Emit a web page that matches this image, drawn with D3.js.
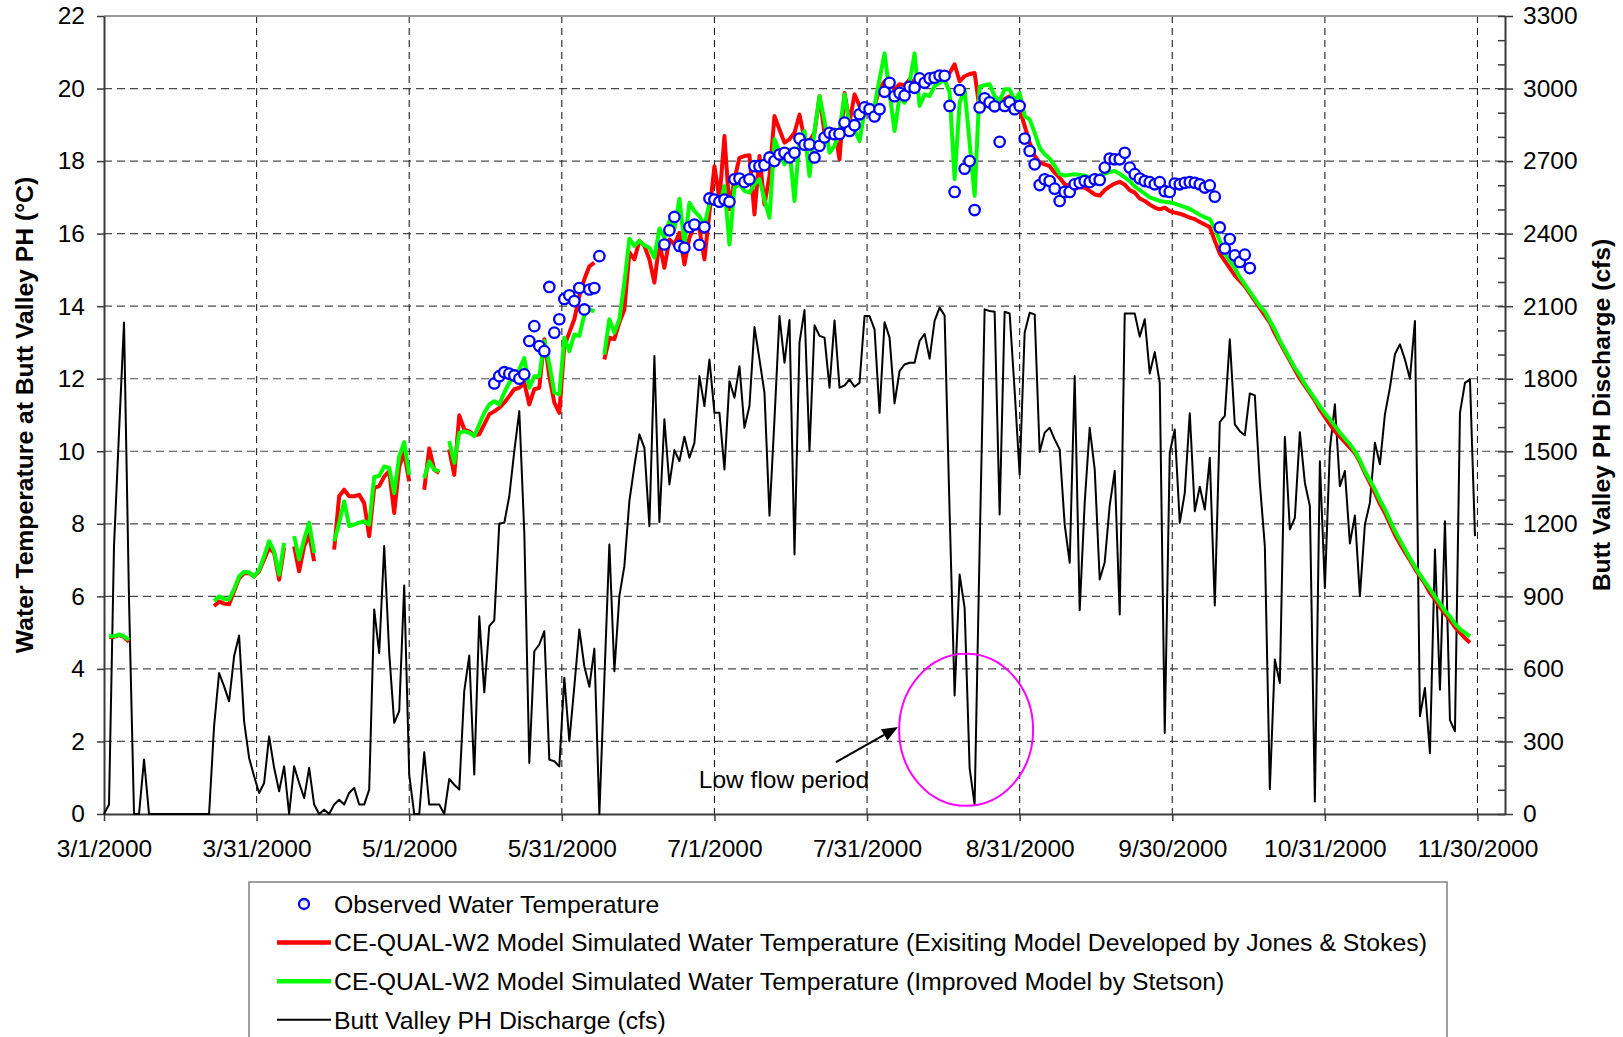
<!DOCTYPE html>
<html lang="en">
<head>
<meta charset="UTF-8">
<script src="https://d3js.org/d3.v7.min.js"></script>
<title>Butt Valley PH water temperature 2000</title>
<style>
    body { margin: 0; background: white; }
    svg text { font-family: Arial, "Liberation Sans", sans-serif; fill: black; }
</style>
</head>
<body>
<div class="fig"></div>
<script>
// day 0 = 3/1/2000, one value per day (null = no data)
const xTickDays = [0, 30.5, 61, 91.5, 122, 152.5, 183, 213.5, 244, 274.5];
const xTickLabels = ["3/1/2000", "3/31/2000", "5/1/2000", "5/31/2000", "7/1/2000",
    "7/31/2000", "8/31/2000", "9/30/2000", "10/31/2000", "11/30/2000"];
const tempTicks = [0, 2, 4, 6, 8, 10, 12, 14, 16, 18, 20, 22];
const flowTicks = [0, 300, 600, 900, 1200, 1500, 1800, 2100, 2400, 2700, 3000, 3300];

// Butt Valley PH discharge (cfs), days 0..274
const discharge = [
    0, 39, 1108, 1577, 2033, 887, 0, 0, 225, 0,
    0, 0, 0, 0, 0, 0, 0, 0, 0, 0,
    0, 0, 363, 583, 528, 466, 652, 738, 383, 232,
    156, 87, 128, 321, 191, 94, 197, 0, 197, 128,
    66, 191, 39, 0, 18, 0, 39, 59, 39, 87,
    108, 39, 39, 101, 846, 666, 1108, 666, 377, 425,
    945, 163, 0, 0, 255, 39, 39, 39, 0, 145,
    121, 101, 508, 655, 163, 818, 503, 777, 801, 1201,
    1204, 1314, 1501, 1666, 1163, 211, 673, 701, 756, 225,
    218, 197, 563, 301, 528, 763, 611, 526, 683, 0,
    556, 1114, 590, 901, 1025, 1294, 1439, 1570, 1514, 1190,
    1894, 1207, 1632, 1363, 1505, 1459, 1560, 1473, 1535, 1811,
    1687, 1880, 1659, 1659, 1425, 1790, 1721, 1852, 1597, 1687,
    2014, 1880, 1742, 1234, 1632, 2059, 1866, 2043, 1073, 1949,
    2084, 1501, 2021, 1977, 1970, 1763, 2041, 1763, 1772, 1797,
    1767, 1783, 2059, 2059, 2004, 1659, 2034, 1970, 1698, 1832,
    1859, 1866, 1866, 1956, 1986, 1883, 2039, 2094, 2062, 1250,
    490, 990, 852, 190, 39, 1100, 2087, 2080, 2077, 1239,
    2077, 2070, 1750, 1404, 1990, 2073, 2066, 1497, 1577, 1597,
    1549, 1508, 1197, 1039, 1811, 843, 1287, 1597, 1425, 970,
    1041, 1276, 1418, 825, 2070, 2070, 2070, 1974, 2046, 1822,
    1910, 1783, 335, 1494, 1590, 1204, 1328, 1657, 1252, 1353,
    1259, 1473, 862, 1621, 1646, 1963, 1611, 1583, 1566, 1739,
    1731, 1370, 1108, 103, 639, 542, 1560, 1177, 1225, 1579,
    1370, 1273, 52, 1459, 935, 1508, 1694, 1356, 1418, 1119,
    1234, 901, 1197, 1287, 1535, 1446, 1652, 1763, 1901, 1942,
    1880, 1800, 2039, 404, 521, 252, 1094, 514, 1211, 388,
    342, 1659, 1783, 1797, 1149
];

// CE-QUAL-W2, existing model (Jones & Stokes), days 0..273
const simJonesStokes = [
    null, 4.88, 4.88, 4.93, 4.88, 4.75, null, null, null, null,
    null, null, null, null, null, null, null, null, null, null,
    null, null, 5.73, 5.86, 5.8, 5.78, 6.14, 6.5, 6.64, 6.64,
    6.55, 6.69, 7.02, 7.34, 7.2, 6.46, 7.34, null, 7.38, 6.69,
    7.38, 7.7, 6.97, null, null, null, 7.29, 8.76, 8.94, 8.76,
    8.76, 8.8, 8.57, 7.66, 8.99, 9.04, 9.3, 9.45, 8.3, 9.58,
    9.95, 9.17, null, null, 8.94, 10.08, 9.49, 9.4, null, 10.05,
    9.35, 10.99, 10.6, 10.55, 10.44, 10.47, 10.74, 11.02, 11.1, 11.2,
    11.34, 11.52, 11.71, 11.75, 11.89, 11.29, 11.71, 11.75, 13.09, 12.07,
    11.34, 11.06, 12.9, 13.27, 13.64, 14.28, 14.74, 15.1, 15.2, null,
    12.53, 13.13, 13.09, 13.55, 13.91, 15.48, 15.29, 15.8, 15.66, 15.29,
    14.65, 15.75, 15.06, 15.84, 15.7, 16.02, 15.15, 15.89, 16.2, 16.12,
    15.29, 16.58, 17.86, 16.94, 18.69, 16.67, 17.5, 18.09, 18.14, 18.16,
    16.53, 18.14, 16.8, 17.59, 19.24, 18.87, 18.51, 18.6, 18.78, 19.28,
    18.6, 18.55, 18.78, 19.79, 18.78, 18.64, 18.87, 18.05, 19.88, 19.06,
    19.84, 19.52, 19.48, 19.43, 19.52, 19.98, 20.2, 20.16, 19.98, 20.12,
    20.09, 20.25, 20.16, 20.35, 20.16, 20.2, 20.29, 20.39, 20.34, 20.43,
    20.67, 20.2, 20.34, 20.4, 20.43, 19.43, 19.52, 19.61, 19.57, 19.54,
    19.71, 19.79, 19.71, 19.43, 18.97, 18.51, 18.14, 17.96, 17.91, 17.86,
    17.68, 17.54, 17.36, 17.32, 17.27, 17.27, 17.27, 17.18, 17.08, 17.05,
    17.2, 17.3, 17.38, 17.43, 17.35, 17.2, 17.13, 16.97, 16.9, 16.8,
    16.72, 16.67, 16.72, 16.62, 16.58, 16.55, 16.5, 16.44, 16.4, 16.32,
    16.25, 16.18, 15.8, 15.45, 15.25, 15.05, 14.85, 14.7, 14.55, 14.35,
    14.15, 13.95, 13.75, 13.55, 13.25, 13.0, 12.75, 12.5, 12.25, 12.0,
    11.8, 11.6, 11.4, 11.15, 10.95, 10.74, 10.55, 10.4, 10.25, 10.1,
    9.95, 9.7, 9.4, 9.13, 8.85, 8.55, 8.3, 8.0, 7.7, 7.45,
    7.22, 7.0, 6.76, 6.55, 6.35, 6.1, 5.92, 5.7, 5.52, 5.35,
    5.15, 5.0, 4.85, 4.72
];

// CE-QUAL-W2, improved model (Stetson), days 0..273
const simStetson = [
    null, 4.9, 4.9, 4.95, 4.9, 4.8, null, null, null, null,
    null, null, null, null, null, null, null, null, null, null,
    null, null, 5.87, 6.0, 5.93, 5.91, 6.2, 6.55, 6.68, 6.66,
    6.55, 6.73, 7.1, 7.52, 7.24, 6.6, 7.47, null, 7.66, 7.02,
    7.57, 8.03, 7.2, null, null, null, 7.52, 8.03, 8.62, 7.94,
    7.98, 8.03, 8.07, 7.98, 9.29, 9.32, 9.58, 9.54, 8.85, 9.86,
    10.25, 9.35, null, null, 9.26, 9.72, 9.49, 9.45, null, 10.28,
    9.68, 10.51, 10.55, 10.51, 10.42, 10.74, 11.06, 11.29, 11.38, 11.29,
    11.62, 11.89, 12.07, 12.25, 12.57, 11.75, 12.07, 12.07, 13.04, 12.4,
    11.62, 11.57, 13.13, 12.76, 13.22, 13.18, 13.77, 13.91, 13.86, null,
    12.67, 13.64, 13.27, 13.64, 14.65, 15.86, 15.66, 15.8, 15.68, 15.61,
    15.34, 16.14, 15.89, 16.35, 16.12, 16.96, 15.7, 16.85, 16.62, 16.48,
    16.2, 16.85, 17.04, 16.76, 17.31, 15.7, 17.27, 17.36, 17.18, 17.13,
    17.36, 17.5, 16.94, 16.44, 18.6, 18.28, 17.91, 18.32, 16.9, 18.6,
    18.83, 17.59, 18.83, 19.79, 19.1, 18.23, 18.42, 18.83, 19.84, 19.01,
    18.87, 18.55, 19.38, 19.38, 19.52, 20.26, 20.97, 19.88, 18.83, 19.79,
    19.61, 20.16, 20.97, 19.52, 19.84, 19.79, 20.07, 20.16, 20.25, 19.9,
    17.5, 19.6, 19.98, 18.5, 17.04, 20.05, 20.09, 20.12, 19.79, 19.66,
    19.98, 19.98, 19.66, 19.88, 19.24, 19.15, 18.78, 18.37, 18.19, 18.07,
    17.87, 17.64, 17.6, 17.62, 17.64, 17.62, 17.6, 17.56, 17.56, 17.6,
    17.65, 17.7, 17.73, 17.65, 17.55, 17.45, 17.3, 17.2, 17.1, 17.0,
    16.95, 16.9, 16.88, 16.86, 16.83, 16.78, 16.73, 16.68, 16.6, 16.52,
    16.45, 16.4, 16.15, 15.8, 15.45, 15.25, 15.05, 14.8, 14.6, 14.4,
    14.2, 14.0, 13.85, 13.6, 13.35, 13.05, 12.8, 12.55, 12.3, 12.1,
    11.85, 11.65, 11.45, 11.24, 11.05, 10.88, 10.7, 10.52, 10.35, 10.2,
    10.0, 9.75, 9.45, 9.2, 8.95, 8.65, 8.4, 8.1, 7.8, 7.55,
    7.3, 7.05, 6.82, 6.6, 6.4, 6.2, 6.0, 5.8, 5.6, 5.45,
    5.25, 5.1, 5.0, 4.9
];

// observed water temperature, starting at day 78 (5/18/2000)
const obsStartDay = 78;
const observed = [
    11.87, 12.07, 12.18, 12.14, 12.09, 12.0, 12.12, 13.04, 13.45, 12.9,
    12.76, 14.53, 13.27, 13.64, 14.2, 14.3, 14.14, 14.5, 13.91, 14.46,
    14.5, 15.38,
    null, null, null, null, null, null, null, null, null, null, null, null,
    15.7, 16.09, 16.46, 15.66, 15.61, 16.18, 16.25, 15.69,
    16.18, 16.97, 16.94, 16.88, 16.94, 16.88, 17.5, 17.52, 17.42, 17.5,
    17.86, 17.86, 17.89, 18.1, 18.0, 18.18, 18.23, 18.1, 18.23, 18.62,
    18.45, 18.46, 18.1, 18.42, 18.65, 18.78, 18.74, 18.75, 19.06, 18.83,
    18.99, 19.29, 19.48, 19.43, 19.23, 19.43, 19.91, 20.16, 19.79, 19.88,
    19.81, 20.05, 20.02, 20.28, 20.16, 20.28, 20.3, 20.36, 20.35, 19.52,
    17.15, 19.96, 17.79, 18.0, 16.65, 19.48, 19.73, 19.62, 19.51, 18.53,
    19.52, 19.62, 19.43, 19.52, 18.62, 18.28, 17.91, 17.34, 17.5, 17.45,
    17.24, 16.9, 17.15, 17.15, 17.36, 17.4, 17.45, 17.42, 17.5, 17.48,
    17.82, 18.07, 18.05, 18.05, 18.23, 17.82, 17.64, 17.52, 17.45, 17.42,
    17.36, 17.42, 17.17, 17.15, 17.38, 17.36, 17.4, 17.42, 17.4, 17.36,
    17.27, 17.33, 17.02, 16.17, 15.59, 15.85, 15.4, 15.22, 15.42, 15.05
];

const legendLabels = [
    "Observed Water Temperature",
    "CE-QUAL-W2 Model Simulated Water Temperature (Exisiting Model Developed by Jones & Stokes)",
    "CE-QUAL-W2 Model Simulated Water Temperature (Improved Model by Stetson)",
    "Butt Valley PH Discharge (cfs)"
];

const width = 1623, height = 1037;
const plot = {left: 104, right: 1505, top: 16, bottom: 814};

const svg = d3.select(".fig").append("svg")
    .attr("width", width)
    .attr("height", height);

const x = d3.scaleLinear().domain([0, 280]).range([plot.left, plot.right]);
const yT = d3.scaleLinear().domain([0, 22]).range([plot.bottom, plot.top]);
const yQ = d3.scaleLinear().domain([0, 3300]).range([plot.bottom, plot.top]);

// grid
svg.append("g").selectAll("line")
    .data(tempTicks.slice(1, -1))
    .enter().append("line")
    .attr("x1", plot.left).attr("x2", plot.right)
    .attr("y1", d => yT(d)).attr("y2", d => yT(d))
    .attr("stroke", "#4a4a4a").attr("stroke-width", 1.2)
    .attr("stroke-dasharray", "8,5");

svg.append("g").selectAll("line")
    .data(xTickDays.slice(1))
    .enter().append("line")
    .attr("x1", d => x(d)).attr("x2", d => x(d))
    .attr("y1", plot.top).attr("y2", plot.bottom)
    .attr("stroke", "#222").attr("stroke-width", 1.1)
    .attr("stroke-dasharray", "7,5");

// top border
svg.append("line")
    .attr("x1", plot.left).attr("x2", plot.right)
    .attr("y1", plot.top).attr("y2", plot.top)
    .attr("stroke", "#999").attr("stroke-width", 2);

// axes
const fontTick = "24.5px";
const styleAxis = g => {
    g.select(".domain").attr("stroke", "#3a3a3a").attr("stroke-width", 2);
    g.selectAll(".tick line").attr("stroke", "#3a3a3a").attr("stroke-width", 1.5);
    g.selectAll("text").style("font-size", fontTick)
        .style("font-family", "Arial, 'Liberation Sans', sans-serif").attr("fill", "black");
};

svg.append("g")
    .attr("transform", `translate(${plot.left},0)`)
    .call(d3.axisLeft(yT).tickValues(tempTicks).tickSize(7).tickSizeOuter(0).tickPadding(12))
    .call(styleAxis);

svg.append("g")
    .attr("transform", `translate(${plot.right},0)`)
    .call(d3.axisRight(yQ).tickValues(flowTicks).tickSize(8).tickSizeOuter(0).tickPadding(10)
        .tickFormat(d3.format("d")))
    .call(styleAxis);

// inner part of the major ticks + minor ticks on the discharge axis
const minorFlow = d3.range(100, 3300, 100).filter(v => v % 300 !== 0);
svg.append("g")
    .attr("transform", `translate(${plot.right},0)`)
    .call(d3.axisRight(yQ).tickValues(minorFlow.concat(flowTicks)).tickSize(-7).tickSizeOuter(0).tickFormat(""))
    .call(g => g.select(".domain").remove())
    .call(g => g.selectAll(".tick line").attr("stroke", "#3a3a3a").attr("stroke-width", 1.5));

svg.append("g")
    .attr("transform", `translate(0,${plot.bottom})`)
    .call(d3.axisBottom(x).tickValues(xTickDays).tickSize(7).tickSizeOuter(0).tickPadding(19)
        .tickFormat((d, i) => xTickLabels[i]))
    .call(styleAxis);

// axis titles
svg.append("text")
    .attr("transform", `translate(24,${(plot.top + plot.bottom) / 2}) rotate(-90)`)
    .attr("text-anchor", "middle")
    .attr("dominant-baseline", "central")
    .style("font-size", "24.7px").style("font-weight", "bold")
    .text("Water Temperature at Butt Valley PH (°C)");

svg.append("text")
    .attr("transform", `translate(1601,${(plot.top + plot.bottom) / 2}) rotate(-90)`)
    .attr("text-anchor", "middle")
    .attr("dominant-baseline", "central")
    .style("font-size", "24.7px").style("font-weight", "bold")
    .text("Butt Valley PH Discharge (cfs)");

// series
const lineQ = d3.line()
    .defined(d => d != null)
    .x((d, i) => x(i))
    .y(d => yQ(d));

const lineT = d3.line()
    .defined(d => d != null)
    .x((d, i) => x(i))
    .y(d => yT(d));

svg.append("path")
    .attr("d", lineQ(discharge))
    .attr("fill", "none").attr("stroke", "black").attr("stroke-width", 2)
    .attr("stroke-linejoin", "round");

svg.append("path")
    .attr("d", lineT(simJonesStokes))
    .attr("fill", "none").attr("stroke", "#ff0000").attr("stroke-width", 4)
    .attr("stroke-linejoin", "round");

svg.append("path")
    .attr("d", lineT(simStetson))
    .attr("fill", "none").attr("stroke", "#00ff00").attr("stroke-width", 4)
    .attr("stroke-linejoin", "round");

svg.append("g").selectAll("circle")
    .data(observed.map((v, i) => [obsStartDay + i, v]).filter(d => d[1] != null))
    .enter().append("circle")
    .attr("cx", d => x(d[0]))
    .attr("cy", d => yT(d[1]))
    .attr("r", 5.2)
    .attr("fill", "white").attr("stroke", "#0000ff").attr("stroke-width", 2.3);

// low flow annotation
const ell = {day: 172.3, temp: 2.32, rx: 67, ry: 76};
svg.append("ellipse")
    .attr("cx", x(ell.day)).attr("cy", yT(ell.temp))
    .attr("rx", ell.rx).attr("ry", ell.ry)
    .attr("fill", "none").attr("stroke", "#ff00ff").attr("stroke-width", 2);

const ax0 = x(146.3), ay0 = yT(1.43), ax1 = x(158.7), ay1 = yT(2.40);
const ang = Math.atan2(ay1 - ay0, ax1 - ax0);
const headLen = 16, headW = 6.5;
const bx = ax1 - headLen * Math.cos(ang), by = ay1 - headLen * Math.sin(ang);
svg.append("line")
    .attr("x1", ax0).attr("y1", ay0).attr("x2", bx).attr("y2", by)
    .attr("stroke", "black").attr("stroke-width", 2.2);
svg.append("polygon")
    .attr("points", [
        [ax1, ay1],
        [bx + headW * Math.sin(ang), by - headW * Math.cos(ang)],
        [bx - headW * Math.sin(ang), by + headW * Math.cos(ang)]
    ].map(p => p.join(",")).join(" "))
    .attr("fill", "black");

svg.append("text")
    .attr("x", x(135.9)).attr("y", yT(0.72))
    .attr("text-anchor", "middle")
    .style("font-size", "24.5px")
    .text("Low flow period");

// legend
const legend = svg.append("g");
legend.append("rect")
    .attr("x", 249).attr("y", 882).attr("width", 1198).attr("height", 200)
    .attr("fill", "white").attr("stroke", "#808080").attr("stroke-width", 1.5);

const rowY = i => 904 + i * 38.6;
legend.append("circle")
    .attr("cx", 304).attr("cy", rowY(0)).attr("r", 5)
    .attr("fill", "white").attr("stroke", "#0000ff").attr("stroke-width", 2.3);
const legendStroke = [null, ["#ff0000", 4.5], ["#00ff00", 4.5], ["black", 2]];
legendStroke.forEach((s, i) => {
    if (!s) return;
    legend.append("line")
        .attr("x1", 277).attr("x2", 331)
        .attr("y1", rowY(i)).attr("y2", rowY(i))
        .attr("stroke", s[0]).attr("stroke-width", s[1]);
});
legend.selectAll("text.lab")
    .data(legendLabels)
    .enter().append("text")
    .attr("class", "lab")
    .attr("x", 334)
    .attr("y", (d, i) => rowY(i) + 8.8)
    .style("font-size", "24.8px")
    .text(d => d);
</script>
</body>
</html>
